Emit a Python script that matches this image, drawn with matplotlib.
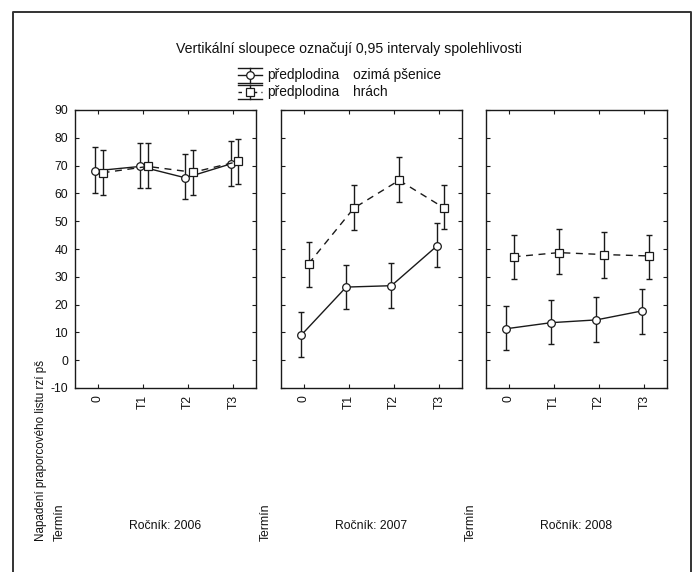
import matplotlib
matplotlib.use("Agg")
import matplotlib.pyplot as plt
from matplotlib.lines import Line2D
import numpy as np

plt.rcParams['font.family'] = ['Liberation Sans', 'DejaVu Sans']

# ---- data ----
terms = ["0", "T1", "T2", "T3"]
years = ["2006", "2007", "2008"]
series_names = ["předplodina    ozimá pšenice", "předplodina    hrách"]

# ozimá pšenice (circle, solid)
wheat_mean = {"2006": [68.1, 69.7, 65.6, 70.6],
              "2007": [8.9, 26.3, 26.8, 41.0],
              "2008": [11.3, 13.5, 14.5, 17.7]}
wheat_low = {"2006": [60.3, 61.8, 57.9, 62.7],
             "2007": [1.3, 18.4, 18.8, 33.4],
             "2008": [3.7, 5.7, 6.7, 9.4]}
wheat_high = {"2006": [76.6, 78.2, 74.0, 79.0],
              "2007": [17.2, 34.2, 35.0, 49.2],
              "2008": [19.5, 21.5, 22.8, 25.6]}

# hrách (square, dashed)
pea_mean = {"2006": [67.4, 69.7, 67.6, 71.5],
            "2007": [34.7, 54.7, 64.7, 54.7],
            "2008": [37.2, 38.7, 38.0, 37.5]}
pea_low = {"2006": [59.3, 61.8, 59.3, 63.4],
           "2007": [26.4, 46.8, 57.0, 47.1],
           "2008": [29.3, 31.1, 29.7, 29.3]}
pea_high = {"2006": [75.6, 78.2, 75.6, 79.7],
            "2007": [42.6, 63.0, 73.2, 63.0],
            "2008": [45.0, 47.3, 46.0, 45.0]}

yticks = [-10, 0, 10, 20, 30, 40, 50, 60, 70, 80, 90]

W, H = 696, 572
fig = plt.figure(figsize=(W / 100, H / 100), dpi=100)


def fx(x):
    return x / W


def fy(y):
    return 1 - y / H


col = "#1a1a1a"
panel_left = [75, 281, 486]
panel_w = 181
top_px, bot_px = 110, 388
fs_tick = 8.7
fs_lab = 8.8

x = np.arange(len(terms))
off_c, off_s = -0.06, 0.11

for i, yr in enumerate(years):
    ax = fig.add_axes([fx(panel_left[i]), fy(bot_px), panel_w / W, (bot_px - top_px) / H])
    # wheat
    m = np.array(wheat_mean[yr]); lo = np.array(wheat_low[yr]); hi = np.array(wheat_high[yr])
    ax.errorbar(x + off_c, m, yerr=[m - lo, hi - m], fmt='none', ecolor=col,
                elinewidth=1.0, capsize=2.3, capthick=1.0, zorder=2)
    ax.plot(x + off_c, m, '-', color=col, lw=1.0, marker='o', ms=5.5,
            mfc='white', mec=col, mew=0.9, zorder=3)
    # pea
    m = np.array(pea_mean[yr]); lo = np.array(pea_low[yr]); hi = np.array(pea_high[yr])
    ax.errorbar(x + off_s, m, yerr=[m - lo, hi - m], fmt='none', ecolor=col,
                elinewidth=1.0, capsize=2.3, capthick=1.0, zorder=2)
    ax.plot(x + off_s, m, color=col, lw=1.0, ls=(0, (5, 4)), marker='s', ms=5.5,
            mfc='white', mec=col, mew=0.9, zorder=3)

    ax.set_xlim(-0.5, 3.5)
    ax.set_ylim(-10, 90)
    ax.set_yticks(yticks)
    ax.set_xticks(x)
    ax.set_xticklabels(terms, rotation=90, fontsize=fs_tick)
    ax.tick_params(direction='in', length=3, width=0.8, top=True, right=True,
                   colors=col, labelcolor='#111111', pad=5)
    if i == 0:
        ax.set_yticklabels([str(v) for v in yticks], fontsize=fs_tick)
    else:
        ax.set_yticklabels([])
    for s in ax.spines.values():
        s.set_linewidth(1.0)
        s.set_color(col)

    # bottom labels
    fig.text(fx(panel_left[i] + panel_w / 2), fy(526), "Ročník: " + yr,
             ha='center', va='center', fontsize=fs_lab, color='#111111')
    fig.text(fx(panel_left[i] - 15), fy(541), "Termín", rotation=90,
             ha='center', va='bottom', fontsize=fs_lab, color='#111111')

fig.text(fx(41), fy(541), "Napadení praporcového listu rzí pš", rotation=90,
         ha='center', va='bottom', fontsize=8.4, color='#111111')

# title
fig.text(fx(349), fy(49), "Vertikální sloupece označují 0,95 intervaly spolehlivosti",
         ha='center', va='center', fontsize=10.2, color='#111111')

# custom legend
def legend_symbol(cy, top, bottom, marker, ls):
    x0, x1, xc = 238, 262, 250
    fig.add_artist(Line2D([fx(x0), fx(x1)], [fy(cy), fy(cy)], color=col, lw=1.0, ls=ls))
    fig.add_artist(Line2D([fx(x0), fx(x1)], [fy(top), fy(top)], color=col, lw=1.0))
    fig.add_artist(Line2D([fx(x0), fx(x1)], [fy(bottom), fy(bottom)], color=col, lw=1.0))
    fig.add_artist(Line2D([fx(xc), fx(xc)], [fy(top), fy(bottom)], color=col, lw=1.0))
    fig.add_artist(Line2D([fx(xc)], [fy(cy)], marker=marker, ms=5.5, mfc='white',
                          mec=col, mew=0.9, ls='none'))

legend_symbol(75, 68, 83, 'o', '-')
legend_symbol(92, 84.5, 99, 's', (0, (2.5, 3)))
for cy, name in zip([75, 92], series_names):
    a, b = name.split("    ")
    fig.text(fx(267), fy(cy), a, ha='left', va='center', fontsize=9.9, color='#111111')
    fig.text(fx(353), fy(cy), b, ha='left', va='center', fontsize=9.9, color='#111111')

# outer frame
fig.add_artist(Line2D([fx(12.5), fx(12.5), fx(691), fx(691)],
                      [fy(580), fy(11.5), fy(11.5), fy(580)], color='#333333', lw=1.4))

fig.savefig("out.png", dpi=100)
